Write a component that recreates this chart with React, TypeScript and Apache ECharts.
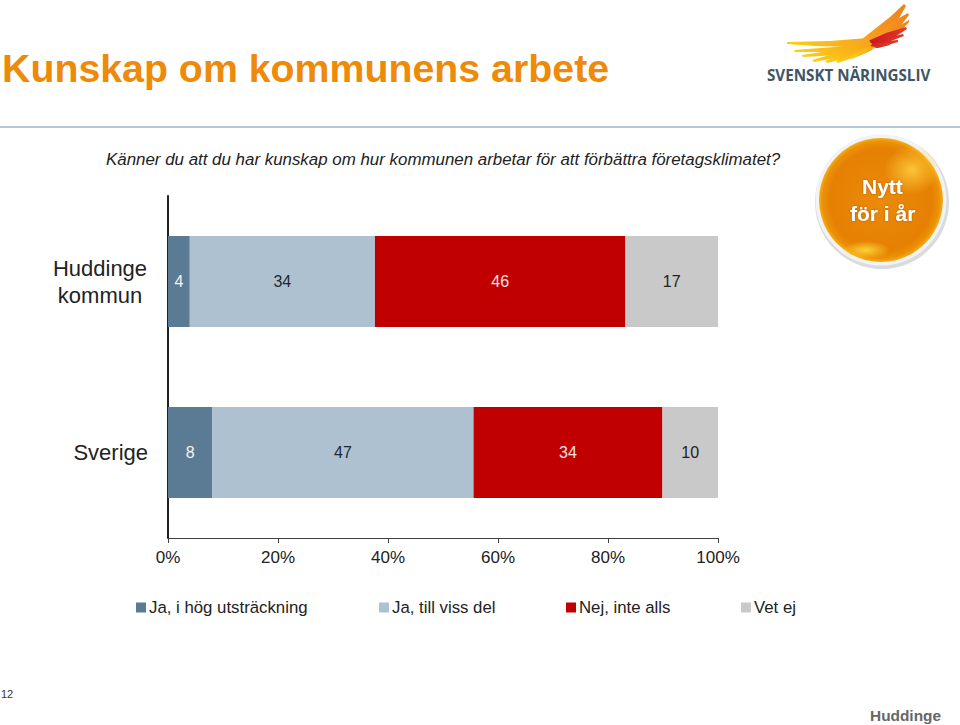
import React, { useEffect, useRef } from "react";
import * as echarts from "echarts";

const categories = ["Huddinge\nkommun", "Sverige"];
const seriesNames = ["Ja, i hög utsträckning", "Ja, till viss del", "Nej, inte alls", "Vet ej"];
const highValues = [4, 8];
const someValues = [34, 47];
const noValues = [46, 34];
const unknownValues = [17, 10];
const seriesValues = [highValues, someValues, noValues, unknownValues];
const seriesColors = ["#5B7B94", "#ADC1D1", "#C00000", "#C9C9C9"];
const labelColors = ["#F4F4F4", "#1E2A33", "#F6E4E4", "#222222"];
const legendLefts = [136, 379, 566, 741];
const FONT = '"Liberation Sans", Arial, sans-serif';

const totals = categories.map((_, i) => seriesValues.reduce((s, v) => s + v[i], 0));

const yellowFeathers = [
  [[787, 42], [787, 44], [815, 46], [850, 47], [872, 45], [868, 38], [830, 41]],
  [[872, 43], [835, 47], [794, 50], [795, 52], [830, 52], [868, 50]],
  [[870, 45], [835, 50], [802, 55], [803, 57], [840, 55], [872, 50]],
  [[868, 47], [840, 52], [812, 60], [814, 62], [846, 56], [870, 51]],
  [[868, 47], [845, 54], [825, 61], [827, 63], [852, 57], [870, 51]],
  [[868, 47], [850, 55], [836, 61], [838, 63], [858, 56], [872, 50]],
  [[870, 46], [858, 52], [850, 57], [852, 59], [866, 53], [876, 47]],
];
const orangeFeathers = [
  [[862, 39], [876, 28], [890, 17], [904, 4], [906, 6], [898, 20], [886, 34], [872, 46]],
  [[872, 40], [892, 22], [908, 13], [909, 15], [899, 28], [878, 44]],
  [[874, 41], [896, 28], [909, 20], [909, 22], [899, 33], [876, 44]],
];
const redFeathers = [
  [[868, 41], [886, 33], [906, 27], [907, 29], [893, 38], [868, 45]],
  [[868, 43], [885, 38], [903, 34], [904, 36], [888, 42], [868, 46]],
  [[868, 44], [885, 41], [898, 40], [898, 42], [884, 46], [868, 47]],
  [[864, 45], [880, 43], [890, 43], [890, 45], [878, 48], [862, 47]],
];

const feather = (points: number[][], colors: string[]) => ({
  type: "polygon",
  shape: { points },
  style: {
    fill: {
      type: "linear", x: 0, y: 0, x2: 1, y2: 0,
      colorStops: [{ offset: 0, color: colors[0] }, { offset: 1, color: colors[1] }],
    },
  },
  silent: true,
});

const glow = (cx: number, cy: number, rx: number, ry: number, rgb: string, a: number) => ({
  type: "ellipse",
  shape: { cx, cy, rx, ry },
  style: {
    fill: {
      type: "radial", x: 0.5, y: 0.5, r: 0.5,
      colorStops: [
        { offset: 0, color: `rgba(${rgb},${a})` },
        { offset: 1, color: `rgba(${rgb},0)` },
      ],
    },
  },
});

export default function App() {
  const ref = useRef<HTMLDivElement>(null);
  useEffect(() => {
    const chart = echarts.init(ref.current!, null, { renderer: "svg" });
    chart.setOption({
      animation: false,
      backgroundColor: "#fff",
      grid: { left: 168, right: 242, top: 196, bottom: 187 },
      xAxis: {
        type: "value", min: 0, max: 100, interval: 20,
        splitLine: { show: false },
        axisLine: { show: true, lineStyle: { color: "#404040", width: 1 } },
        axisTick: { show: true, length: 5, lineStyle: { color: "#404040" } },
        axisLabel: { formatter: "{value}%", color: "#222", fontFamily: FONT, fontSize: 17, margin: 11 },
      },
      yAxis: {
        type: "category", inverse: true, data: categories,
        axisLine: { show: true, lineStyle: { color: "#222", width: 2 } },
        axisTick: { show: false },
        axisLabel: {
          color: "#222", fontFamily: FONT, fontSize: 22, lineHeight: 27, margin: 20, align: "right",
          formatter: (v: string) => v.includes("\n") ? v.split("\n").map((t) => `{c|${t}}`).join("\n") : v,
          rich: { c: { width: 96, align: "center", fontFamily: FONT, fontSize: 22, lineHeight: 27, color: "#222" } },
        },
      },
      legend: seriesNames.map((name, i) => ({
        show: true, data: [name], left: legendLefts[i], top: 599, padding: 0,
        icon: "rect", itemWidth: 10, itemHeight: 10, itemGap: 3,
        textStyle: { color: "#222", fontFamily: FONT, fontSize: 16.8, padding: [0, 0, 0, -2] },
      })),
      series: seriesNames.map((name, s) => ({
        name, type: "bar", stack: "share", barWidth: 91,
        itemStyle: { color: seriesColors[s] },
        data: seriesValues[s].map((v, i) => ({ value: (v / totals[i]) * 100, raw: v })),
        label: {
          show: true, position: "inside", color: labelColors[s], fontFamily: FONT, fontSize: 16,
          formatter: (p: any) => String(p.data.raw),
        },
      })),
      graphic: [
        { type: "text", left: 2, top: 48, style: { text: "Kunskap om kommunens arbete", fill: "#EE8A0A", font: `bold 39.3px ${FONT}` } },
        { type: "line", shape: { x1: 0, y1: 127, x2: 960, y2: 127 }, style: { stroke: "#B4C7D6", lineWidth: 2 } },
        { type: "text", left: 106, top: 151, style: { text: "Känner du att du har kunskap om hur kommunen arbetar för att förbättra företagsklimatet?", fill: "#222", font: `italic 16.9px ${FONT}` } },
        ...orangeFeathers.map((p) => feather(p, ["#F7A51C", "#F0801F"])),
        ...redFeathers.map((p) => feather(p, ["#C8161E", "#E23A26"])),
        ...yellowFeathers.map((p) => feather(p, ["#FBCF16", "#F8A31C"])),
        { type: "text", left: 767, top: 67, style: { text: "SVENSKT NÄRINGSLIV", fill: "#3F5566", font: `bold 15.2px "Open Sans", ${FONT}` } },
        { type: "circle", shape: { cx: 882, cy: 202, r: 67 }, style: { fill: "#C9CDD2", opacity: 0.7 } },
        { type: "circle", shape: { cx: 881, cy: 200, r: 65.5 }, style: { fill: "#F2F3F4" } },
        {
          type: "circle", shape: { cx: 881, cy: 200, r: 62 },
          style: {
            fill: {
              type: "radial", x: 0.5, y: 0.5, r: 0.5,
              colorStops: [
                { offset: 0, color: "#EC8A0A" },
                { offset: 0.82, color: "#E58002" },
                { offset: 0.94, color: "#EC9006" },
                { offset: 1, color: "#F5AE18" },
              ],
            },
          },
        },
        glow(912, 170, 28, 24, "253,205,60", 0.9),
        glow(866, 250, 24, 9, "253,220,60", 0.9),
        { type: "text", left: 862, top: 176, style: { text: "Nytt", fill: "#fff", font: `bold 21px ${FONT}`, textShadowColor: "rgba(120,70,0,0.6)", textShadowBlur: 2 } },
        { type: "text", left: 850, top: 203, style: { text: "för i år", fill: "#fff", font: `bold 21px ${FONT}`, textShadowColor: "rgba(120,70,0,0.6)", textShadowBlur: 2 } },
        { type: "text", left: 1, top: 688, style: { text: "12", fill: "#333", font: `11px ${FONT}` } },
        { type: "text", right: 19, top: 708, style: { text: "Huddinge", fill: "#666", font: `bold 15.4px ${FONT}` } },
      ],
    });
    return () => chart.dispose();
  }, []);
  return <div ref={ref} style={{ position: "fixed", left: 0, top: 0, width: 960, height: 725 }} />;
}
